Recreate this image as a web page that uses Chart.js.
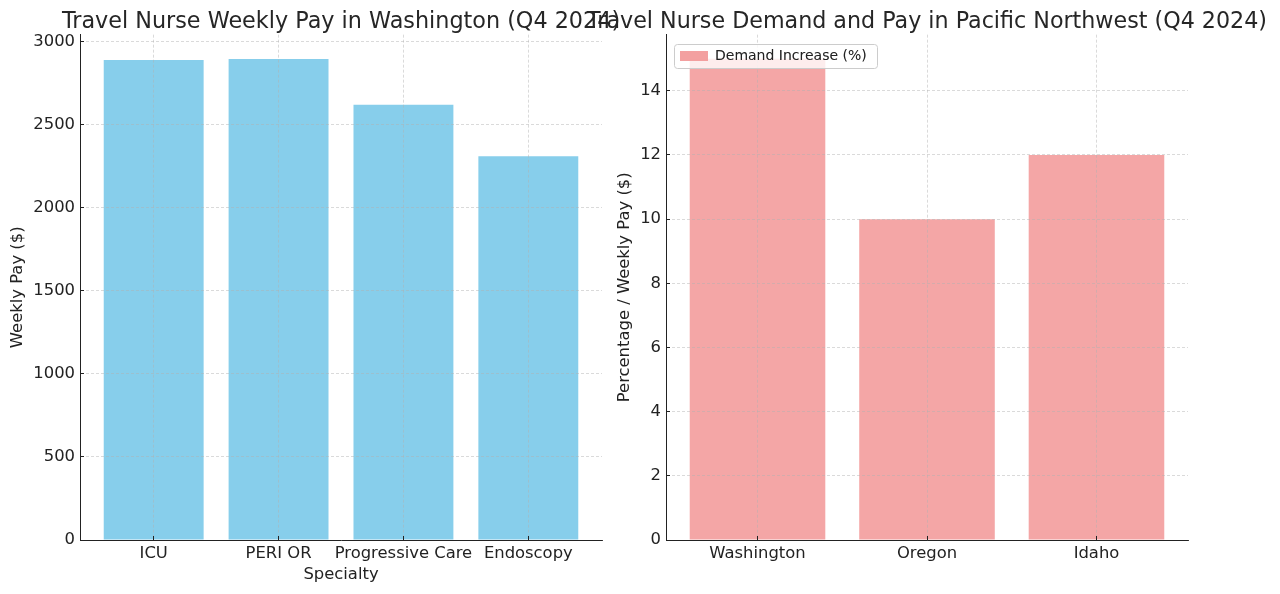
<!DOCTYPE html>
<html>
<head>
<meta charset="utf-8">
<title>Travel Nurse Pay and Demand (Q4 2024)</title>
<script src="https://cdn.jsdelivr.net/npm/chart.js@4.4.1/dist/chart.umd.min.js"></script>
<style>
  html, body { margin: 0; padding: 0; background: #fff; }
  #wrap { position: relative; width: 1280px; height: 594px; overflow: hidden; }
  #wrap canvas { position: absolute; left: 0; top: 0; }
</style>
</head>
<body>
<div id="wrap">
  <canvas id="payChart" width="1280" height="594"></canvas>
  <canvas id="demandChart" width="1280" height="594"></canvas>
</div>
<script>
// left panel
const specialties = ['ICU', 'PERI OR', 'Progressive Care', 'Endoscopy'];
const weeklyPay = [2890, 2895, 2620, 2310];
const payTicks = [0, 500, 1000, 1500, 2000, 2500, 3000];
const payMax = 3042;

// right panel
const regions = ['Washington', 'Oregon', 'Idaho'];
const demandIncrease = [15, 10, 12];
const demandTicks = [0, 2, 4, 6, 8, 10, 12, 14];
const demandMax = 15.75;

const TEXT = '#222222';
const GRID = 'rgba(176,176,176,0.6)';

Chart.defaults.font.family = "'DejaVu Sans', sans-serif";
Chart.defaults.font.size = 16.4;
Chart.defaults.color = TEXT;

// matplotlib style: dashed grid above the bars, ticks pointing inwards
function axisLook() {
  return {
    grid: {
      color: GRID,
      lineWidth: 0.8,
      tickLength: -4,
      tickColor: TEXT,
      tickWidth: 1,
      z: 1,
    },
    border: { color: TEXT, width: 1, dash: [3, 2], z: 2 },
  };
}

function categoryAxis(labels, min, max, title) {
  const look = axisLook();
  return {
    type: 'linear',
    position: 'bottom',
    min,
    max,
    offset: false,
    grid: { ...look.grid, offset: false },
    border: look.border,
    ticks: {
      autoSkip: false,
      maxRotation: 0,
      minRotation: 0,
      padding: 8,
      z: 2,
      callback: (value) => labels[value] ?? '',
    },
    afterBuildTicks: (scale) => {
      scale.ticks = labels.map((_, i) => ({ value: i }));
    },
    afterFit: (scale) => {
      scale.height = 54;
    },
    title: {
      display: !!title,
      text: title || '',
      color: TEXT,
      font: { size: 16.4 },
      padding: { top: 0, bottom: 9 },
    },
  };
}

function valueAxis(tickValues, max, title, width, titlePad) {
  const look = axisLook();
  return {
    type: 'linear',
    position: 'left',
    min: 0,
    max,
    grid: look.grid,
    border: look.border,
    ticks: {
      padding: 9,
      z: 2,
      callback: (value) => String(value),
    },
    afterBuildTicks: (scale) => {
      scale.ticks = tickValues.map((v) => ({ value: v }));
    },
    afterFit: (scale) => {
      scale.width = width;
    },
    title: {
      display: true,
      text: title,
      color: TEXT,
      font: { size: 16.4 },
      padding: { top: titlePad, bottom: 0 },
    },
  };
}

// empty axis on the right, only there to hold space so the title can stay centred over the plot
function spacerAxis(width) {
  return {
    type: 'linear',
    position: 'right',
    display: true,
    grid: { display: false },
    border: { display: false },
    ticks: { display: false },
    afterFit: (scale) => {
      scale.width = width;
    },
  };
}

// rounded legend frame, legend redrawn on top of the bars and grid
const legendFrame = {
  id: 'legendFrame',
  afterDraw(chart) {
    const legend = chart.legend;
    if (!legend || !legend.options.display || !legend.legendHitBoxes.length) {
      return;
    }
    const hb = legend.legendHitBoxes[0];
    const ctx = chart.ctx;
    const x = Math.round(hb.left - 6) + 0.5;
    const y = Math.round(hb.top - 5) + 0.5;
    const w = Math.round(hb.width + 16);
    const h = Math.round(hb.height + 10);
    ctx.save();
    ctx.beginPath();
    if (ctx.roundRect) {
      ctx.roundRect(x, y, w, h, 3);
    } else {
      ctx.rect(x, y, w, h);
    }
    ctx.fillStyle = 'rgba(255,255,255,0.8)';
    ctx.fill();
    ctx.strokeStyle = '#cccccc';
    ctx.lineWidth = 1;
    ctx.stroke();
    ctx.restore();
    legend.draw();
  },
};

function titleOpts(text) {
  return {
    display: true,
    text,
    color: '#262626',
    font: { size: 22.3, weight: 'normal', lineHeight: 1.15 },
    padding: { top: 9, bottom: 0 },
  };
}

new Chart(document.getElementById('payChart'), {
  type: 'bar',
  data: {
    datasets: [
      {
        label: 'Weekly Pay ($)',
        data: specialties.map((_, i) => ({ x: i, y: weeklyPay[i] })),
        backgroundColor: '#87CEEB',
        borderWidth: 0,
        barPercentage: 0.8,
        categoryPercentage: 1,
        xAxisID: 'x',
        yAxisID: 'y',
      },
    ],
  },
  options: {
    responsive: false,
    animation: false,
    layout: { padding: { left: 0, right: 598, top: 0, bottom: 0 } },
    plugins: {
      title: titleOpts('Travel Nurse Weekly Pay in Washington (Q4 2024)'),
      legend: { display: false },
      tooltip: { enabled: false },
    },
    scales: {
      x: categoryAxis(specialties, -0.59, 3.59, 'Specialty'),
      y: valueAxis(payTicks, payMax, 'Weekly Pay ($)', 80, 8.4),
      yR: spacerAxis(80),
    },
  },
});

new Chart(document.getElementById('demandChart'), {
  type: 'bar',
  data: {
    datasets: [
      {
        label: 'Demand Increase (%)',
        data: regions.map((_, i) => ({ x: i, y: demandIncrease[i] })),
        backgroundColor: 'rgba(240,128,128,0.7)',
        borderWidth: 0,
        barPercentage: 0.8,
        categoryPercentage: 1,
        xAxisID: 'x',
        yAxisID: 'y',
      },
    ],
  },
  options: {
    responsive: false,
    animation: false,
    layout: { padding: { left: 587, right: 13, top: 0, bottom: 0 } },
    plugins: {
      title: titleOpts('Travel Nurse Demand and Pay in Pacific Northwest (Q4 2024)'),
      legend: {
        display: true,
        position: 'chartArea',
        align: 'start',
        // a chartArea legend starts at y = 0; the blank title pushes it below the plot top
        title: {
          display: true,
          text: ' ',
          font: { size: 10 },
          padding: { top: 23, bottom: 0 },
        },
        labels: {
          boxWidth: 28,
          boxHeight: 10,
          padding: 14,
          color: TEXT,
          font: { size: 14 },
        },
      },
      tooltip: { enabled: false },
    },
    scales: {
      x: categoryAxis(regions, -0.54, 2.54, ''),
      y: valueAxis(demandTicks, demandMax, 'Percentage / Weekly Pay ($)', 79, 28.4),
      yR: spacerAxis(79),
    },
  },
  plugins: [legendFrame],
});
</script>
</body>
</html>
